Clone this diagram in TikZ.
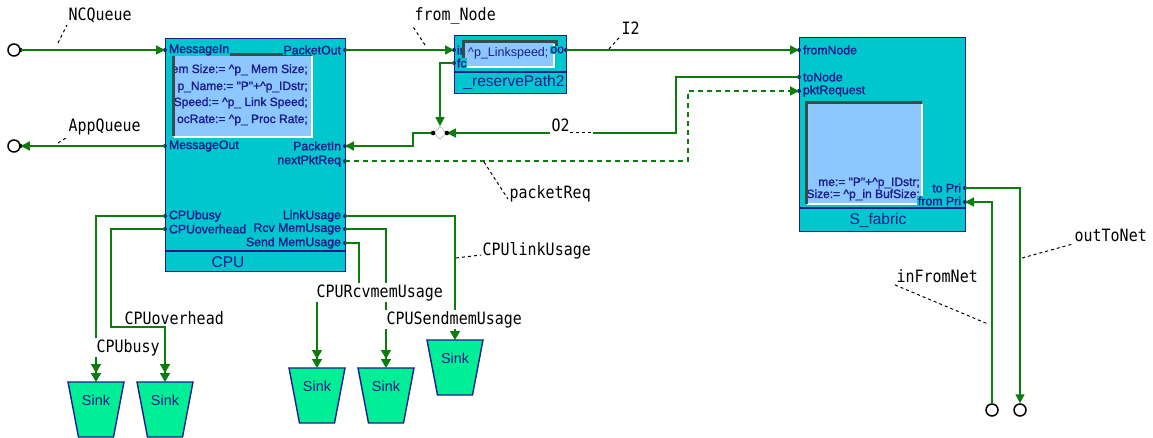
\documentclass[tikz,border=0pt]{standalone}
\usepackage{fontspec}
\setmainfont{Liberation Sans}
\newfontfamily\portfont[FakeBold=1.6]{Liberation Sans}
\newfontfamily\tagfont[FakeStretch=0.88]{DejaVu Sans Mono}
\usetikzlibrary{arrows.meta,shapes.geometric}

\definecolor{blockfill}{RGB}{0,199,206}
\definecolor{blockedge}{RGB}{28,28,140}
\definecolor{paramfill}{RGB}{140,200,255}
\definecolor{frameshade}{RGB}{55,75,75}
\definecolor{wiregreen}{RGB}{10,125,10}
\definecolor{sinkfill}{RGB}{0,238,150}

\tikzset{
  blockbox/.style={draw=blockedge, fill=blockfill, line width=1.4pt, inner sep=0pt, anchor=north west},
  portlbl/.style={font=\portfont\fontsize{12.3}{13}\selectfont, text=blockedge, inner sep=0.8pt, fill=blockfill},
  blocktitle/.style={font=\fontsize{15.5}{16}\selectfont, text=blockedge, inner sep=0pt},
  paramtxt/.style={font=\portfont\fontsize{12}{13}\selectfont, text=blockedge, inner sep=0pt, anchor=base east},
  wire/.style={draw=wiregreen, line width=1.5pt},
  feed/.style={wire, -{Triangle[length=9pt,width=9pt]}},
  sinkfeed/.style={wire, -{Triangle[length=9pt,width=10pt]Triangle[length=9pt,width=10pt]}},
  reqwire/.style={wire, dash pattern=on 5pt off 4pt, -{Triangle[length=9pt,width=9pt]}},
  wirelabel/.style={font=\tagfont\fontsize{17}{18}\selectfont, inner sep=1.5pt, fill=white, anchor=base west},
  leaderline/.style={draw=black, line width=1pt, dash pattern=on 3pt off 3pt},
  terminal/.style={circle, draw=black, line width=1.5pt, fill=white, minimum size=12pt, inner sep=0pt},
  mergept/.style={diamond, draw=gray, densely dotted, line width=0.8pt, fill=white, minimum size=13pt, inner sep=0pt},
  sinkcup/.pic={
    \draw[draw=blockedge, fill=sinkfill, line width=1.4pt]
      (-28,0) -- (28,0) -- (17.5,55) -- (-17.5,55) -- cycle;
    \node[font=\fontsize{14.4}{15}\selectfont, text=blockedge, inner sep=0pt] (-name) at (0,18) {Sink};
    \coordinate (-top) at (0,0);
  }
}

\begin{document}
\begin{tikzpicture}[x=1pt, y=-1pt]
\fill[white] (0,0) rectangle (1153,438);
\useasboundingbox (0,0) rectangle (1153,438);

% ---------------- CPU block ----------------
\node[blockbox, minimum width=180pt, minimum height=233pt] (cpu) at (165,38) {};
\draw[blockedge, line width=1.4pt] (165,251) -- (345,251);
\node[blocktitle] (cpu-title) at (228,262) {CPU};

% parameter panel
\fill[paramfill] (172,55) rectangle (312,137);
\draw[white, line width=2pt] (312,56) -- (312,137) -- (174,137);
\begin{scope}
  \clip (174,57) rectangle (311,136);
  \node[paramtxt] (cpu-p1) at (308,73) {Mem Size:= \textasciicircum p\_ Mem Size;};
  \node[paramtxt] (cpu-p2) at (308,90) {p\_Name:= "P"+\textasciicircum p\_IDstr;};
  \node[paramtxt] (cpu-p3) at (308,106) {Speed:= \textasciicircum p\_ Link Speed;};
  \node[paramtxt] (cpu-p4) at (308,123) {ocRate:= \textasciicircum p\_ Proc Rate;};
\end{scope}
\draw[frameshade, line width=3pt] (173,136) -- (173,55) -- (312,55);

% CPU ports
\coordinate (cpu-msgin)   at (165,50);
\coordinate (cpu-pktout)  at (345,50);
\coordinate (cpu-msgout)  at (165,146);
\coordinate (cpu-pktin)   at (345,146);
\coordinate (cpu-nextreq) at (345,161);
\coordinate (cpu-busy)    at (165,216);
\coordinate (cpu-ovh)     at (165,229);
\coordinate (cpu-link)    at (345,216);
\coordinate (cpu-rcv)     at (345,229);
\coordinate (cpu-snd)     at (345,243);

\node[portlbl, anchor=west] (l-msgin)   at (168,50)  {MessageIn};
\node[portlbl, anchor=east] (l-pktout)  at (342,50)  {PacketOut};
\node[portlbl, anchor=west] (l-msgout)  at (168,146) {MessageOut};
\node[portlbl, anchor=east] (l-pktin)   at (342,146) {PacketIn};
\node[portlbl, anchor=east] (l-nextreq) at (342,161) {nextPktReq};
\node[portlbl, anchor=west] (l-busy)    at (168,216) {CPUbusy};
\node[portlbl, anchor=west] (l-ovh)     at (168,229) {CPUoverhead};
\node[portlbl, anchor=east] (l-link)    at (342,216) {LinkUsage};
\node[portlbl, anchor=east] (l-rcv)     at (342,229) {Rcv MemUsage};
\node[portlbl, anchor=east] (l-snd)     at (342,243) {Send MemUsage};

\foreach \p in {cpu-msgin,cpu-pktout,cpu-msgout,cpu-pktin,cpu-nextreq,cpu-busy,cpu-ovh,cpu-link,cpu-rcv,cpu-snd}
  \fill[blockedge] (\p) circle (2);

% ---------------- reservePath2 block ----------------
\node[blockbox, minimum width=112pt, minimum height=58pt] (rp) at (454,35) {};
\draw[blockedge, line width=1.4pt] (454,72) -- (566,72);
\node[blocktitle] (rp-title) at (514,82) {\_reservePath2};
\coordinate (rp-in) at (454,50);
\coordinate (rp-fc) at (454,63);
\coordinate (rp-oo) at (566,50);
\node[portlbl, anchor=west] (l-rpin) at (456,50) {in};
\fill[paramfill] (463,42) rectangle (554,67);
\draw[white, line width=1.5pt] (554,44) -- (554,67) -- (465,67);
\node[paramtxt, anchor=base west, font=\fontsize{12.5}{13}\selectfont] (rp-p1) at (468,57) {\textasciicircum p\_Linkspeed;};
\draw[frameshade, line width=3pt] (463,58) -- (463,42) -- (556,42) -- (556,47);
\node[portlbl, anchor=west] (l-rpfc) at (456,63) {fc};
\node[portlbl, anchor=east] (l-rpoo) at (565,50) {oo};
\foreach \p in {rp-in,rp-fc,rp-oo}
  \fill[blockedge] (\p) circle (2);

% ---------------- S_fabric block ----------------
\node[blockbox, minimum width=166pt, minimum height=194pt] (sf) at (799,37) {};
\draw[blockedge, line width=1.4pt] (799,208) -- (965,208);
\node[blocktitle] (sf-title) at (878,220) {S\_fabric};
\fill[paramfill] (805,103) rectangle (922,204);
\draw[white, line width=2pt] (922,104) -- (922,204) -- (807,204);
\begin{scope}
  \clip (808,105) rectangle (921,203);
  \node[paramtxt] (sf-p1) at (920,186) {me:= "P"+\textasciicircum p\_IDstr;};
  \node[paramtxt] (sf-p2) at (920,198) {Size:= \textasciicircum p\_in BufSize;};
\end{scope}
\draw[frameshade, line width=3pt] (806,204) -- (806,103) -- (922,103);

\coordinate (sf-from)    at (799,50);
\coordinate (sf-to)      at (799,77);
\coordinate (sf-req)     at (799,91);
\coordinate (sf-topri)   at (965,188);
\coordinate (sf-frompri) at (965,202);
\node[portlbl, anchor=west] (l-from)    at (802,50)  {fromNode};
\node[portlbl, anchor=west] (l-to)      at (802,77)  {toNode};
\node[portlbl, anchor=west] (l-req)     at (802,91)  {pktRequest};
\node[portlbl, anchor=east] (l-topri)   at (962,188) {to Pri};
\node[portlbl, anchor=east] (l-frompri) at (962,201) {from Pri};
\foreach \p in {sf-from,sf-to,sf-req,sf-topri,sf-frompri}
  \fill[blockedge] (\p) circle (2);

% ---------------- terminals, merge point, sinks ----------------
\node[terminal] (ncq)    at (14,50)   {};
\node[terminal] (appq)   at (14,146)  {};
\node[terminal] (netin)  at (992,410) {};
\node[terminal] (netout) at (1020,410) {};
\fill (ncq.east) circle (2);
\fill (appq.east) circle (2);

\node[mergept] (mrg) at (440,133) {};

\pic (s1) at (96,382)  {sinkcup};
\pic (s2) at (165,382) {sinkcup};
\pic (s3) at (317,368) {sinkcup};
\pic (s4) at (386,368) {sinkcup};
\pic (s5) at (455,340) {sinkcup};

% ---------------- connections ----------------
\coordinate (o2-bend) at (676,77);
\coordinate (pi-bend) at (413,133);
\coordinate (rq-bend) at (688,161);
\coordinate (ovh-a) at (111,229);
\coordinate (ovh-b) at (165,327);
\coordinate (snd-a) at (359,243);
\coordinate (snd-b) at (317,291);

\draw[feed] (ncq.east) -- (cpu-msgin);
\draw[feed] (cpu-msgout) -- (appq.east);
\draw[feed] (cpu-pktout) -- (rp-in);
\draw[feed] (rp-oo) -- (sf-from);
\draw[feed] (rp-fc) -| (mrg.north);
\draw[feed] (sf-to) -- (o2-bend) |- (mrg.east);
\draw[feed] (mrg.west) -- (pi-bend) |- (cpu-pktin);
\draw[reqwire] (cpu-nextreq) -- (rq-bend) |- (sf-req);
\draw[feed] (sf-topri) -| (netout.north);
\draw[feed] (netin.north) |- (sf-frompri);

\draw[sinkfeed] (cpu-busy) -| (s1-top);
\draw[sinkfeed] (cpu-ovh) -- (ovh-a) |- (ovh-b) -- (s2-top);
\draw[sinkfeed] (cpu-snd) -- (snd-a) |- (snd-b) -- (s3-top);
\draw[sinkfeed] (cpu-rcv) -| (s4-top);
\draw[sinkfeed] (cpu-link) -| (s5-top);

\fill (mrg.west) circle (2.3);
\fill (mrg.east) circle (2.3);

% ---------------- connection names ----------------
\node[wirelabel] (ncq-lbl)  at (67,21)   {NCQueue};
\node[wirelabel] (appq-lbl) at (67,132)  {AppQueue};
\node[wirelabel] (fn-lbl)   at (413,21)  {from\_Node};
\node[wirelabel] (i2-lbl)   at (620,35)  {I2};
\node[wirelabel, text width=40pt, align=left] (o2-lbl) at (550,132) {O2};
\node[wirelabel] (pr-lbl)   at (508,199) {packetReq};
\node[wirelabel] (lu-lbl)   at (481,255) {CPUlinkUsage};
\node[wirelabel] (rcv-lbl)  at (315,297) {CPURcvmemUsage};
\node[wirelabel] (snd-lbl)  at (385,324) {CPUSendmemUsage};
\node[wirelabel] (busy-lbl) at (95,352)  {CPUbusy};
\node[wirelabel] (ovh-lbl)  at (123,324) {CPUoverhead};
\node[wirelabel] (ot-lbl)   at (1073,242) {outToNet};
\node[wirelabel] (if-lbl)   at (895,283) {inFromNet};

\coordinate (ncq-tap)  at (58,43);
\coordinate (appq-tap) at (58,143);
\coordinate (fn-tap)   at (425,45);
\coordinate (i2-tap)   at (609,49);
\coordinate (o2-tap)   at (592,133);
\coordinate (o2-end)   at (570,133);
\coordinate (pr-tap)   at (484,162);
\coordinate (lu-tap)   at (456,258);
\coordinate (ot-tap)   at (1022,258);
\coordinate (if-tap)   at (988,324);

\draw[leaderline] (ncq-tap) -- (ncq-lbl.south west);
\draw[leaderline] (appq-tap) -- (appq-lbl.south west);
\draw[leaderline] (fn-tap) -- (fn-lbl.south west);
\draw[leaderline] (i2-tap) -- (i2-lbl.south west);
\draw[leaderline] (o2-end) -- (o2-tap);
\draw[leaderline] (pr-tap) -- (pr-lbl.base west);
\draw[leaderline] (lu-tap) -- (lu-lbl.base west);
\draw[leaderline] (ot-tap) -- (ot-lbl.south west);
\draw[leaderline] (if-lbl.south west) -- (if-tap);
\end{tikzpicture}
\end{document}
